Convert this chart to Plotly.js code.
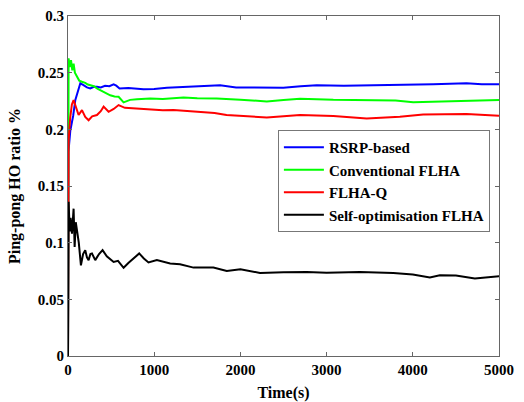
<!DOCTYPE html>
<html>
<head>
<meta charset="utf-8">
<script src="https://cdn.plot.ly/plotly-3.0.1.min.js"></script>
<style>html,body{margin:0;padding:0;background:#fff;}#chart{width:524px;height:402px;}</style>
</head>
<body>
<div id="chart"></div>
<script>
var seriesNames = ["RSRP-based", "Conventional FLHA", "FLHA-Q", "Self-optimisation FLHA"];

var rsrpT = [0, 5, 27, 60, 85, 120, 143, 180, 220, 258, 300, 336, 380, 430, 480, 529, 560, 598, 700, 876, 1000, 1147, 1400, 1600, 1765, 1950, 2150, 2498, 2700, 2885, 3200, 3465, 3800, 4237, 4623, 4800, 5000];
var rsrpV = [0, 0.180, 0.199, 0.212, 0.226, 0.236, 0.2406, 0.239, 0.237, 0.236, 0.2375, 0.2376, 0.237, 0.2385, 0.238, 0.2397, 0.2385, 0.236, 0.2365, 0.2353, 0.2355, 0.2367, 0.2375, 0.238, 0.2388, 0.237, 0.2367, 0.2367, 0.238, 0.239, 0.2385, 0.2388, 0.239, 0.2397, 0.2406, 0.2398, 0.2397];

var convT = [0, 3, 7, 20, 35, 50, 65, 80, 104, 130, 162, 200, 230, 258, 300, 340, 374, 420, 460, 490, 540, 587, 645, 720, 800, 954, 1100, 1340, 1500, 1725, 2000, 2306, 2500, 2692, 3078, 3465, 3800, 4005, 4430, 4700, 5000];
var convV = [0, 0.223, 0.2626, 0.255, 0.261, 0.252, 0.258, 0.250, 0.2464, 0.243, 0.242, 0.241, 0.2395, 0.239, 0.238, 0.236, 0.2347, 0.233, 0.231, 0.230, 0.229, 0.2287, 0.2238, 0.226, 0.2265, 0.2273, 0.2268, 0.228, 0.2275, 0.2273, 0.2262, 0.2246, 0.2258, 0.227, 0.226, 0.226, 0.2255, 0.2238, 0.2246, 0.2252, 0.2258];

var flhaqT = [0, 3, 7, 25, 45, 65, 90, 123, 162, 200, 239, 280, 336, 380, 413, 471, 530, 587, 660, 760, 954, 1100, 1224, 1533, 1700, 1839, 2100, 2306, 2500, 2692, 3078, 3300, 3465, 3850, 4120, 4623, 5000];
var flhaqV = [0, 0.150, 0.190, 0.210, 0.222, 0.2258, 0.220, 0.2126, 0.217, 0.211, 0.208, 0.2115, 0.2126, 0.216, 0.220, 0.2155, 0.218, 0.2214, 0.219, 0.2185, 0.217, 0.2168, 0.217, 0.2155, 0.2145, 0.2126, 0.2115, 0.2105, 0.2115, 0.2126, 0.2117, 0.2105, 0.2096, 0.211, 0.213, 0.2135, 0.212];

var selfT = [0, 3, 7, 20, 30, 46, 55, 65, 77, 90, 104, 125, 150, 175, 200, 220, 239, 260, 278, 300, 316, 360, 401, 450, 529, 580, 645, 700, 760, 826, 880, 934, 1031, 1185, 1300, 1456, 1687, 1842, 2000, 2228, 2500, 2769, 3000, 3387, 3774, 4000, 4198, 4314, 4500, 4720, 5010];
var selfV = [0, 0.100, 0.136, 0.110, 0.122, 0.108, 0.125, 0.130, 0.0963, 0.118, 0.111, 0.100, 0.080, 0.090, 0.0934, 0.087, 0.0846, 0.090, 0.0905, 0.086, 0.0846, 0.090, 0.0934, 0.088, 0.083, 0.084, 0.0778, 0.082, 0.086, 0.0905, 0.086, 0.0825, 0.0846, 0.0816, 0.081, 0.078, 0.078, 0.075, 0.0765, 0.0733, 0.074, 0.0742, 0.0735, 0.0742, 0.0733, 0.072, 0.0693, 0.0713, 0.071, 0.0684, 0.0705];

var xTicks = [0, 1000, 2000, 3000, 4000, 5000];
var yTicks = [0, 0.05, 0.1, 0.15, 0.2, 0.25, 0.3];
var yTickText = ["0", "0.05", "0.1", "0.15", "0.2", "0.25", "0.3"];

var colors = ["#0000ff", "#00ff00", "#ff0000", "#000000"];
var xs = [rsrpT, convT, flhaqT, selfT];
var ys = [rsrpV, convV, flhaqV, selfV];

var traces = seriesNames.map(function(n, i) {
  return {x: xs[i], y: ys[i], name: n, type: "scatter", mode: "lines",
          line: {color: colors[i], width: 2}};
});

var fontFam = "'Liberation Serif', 'Times New Roman', serif";
var layout = {
  width: 524, height: 402,
  margin: {l: 68, r: 25, t: 16, b: 46},
  paper_bgcolor: "#fff", plot_bgcolor: "#fff",
  font: {family: fontFam, color: "#000", size: 15, weight: "bold"},
  showlegend: true,
  legend: {x: 0.487, y: 0.665, xanchor: "left", yanchor: "top",
           bgcolor: "#fff", bordercolor: "#777", borderwidth: 1,
           font: {family: fontFam, size: 15, weight: "bold", color: "#000"},
           itemwidth: 40, tracegroupgap: 0},
  xaxis: {range: [0, 5000], tickvals: xTicks, ticks: "inside", ticklen: 4,
          tickcolor: "#666", showline: true, linecolor: "#666", linewidth: 1, mirror: "ticks",
          showgrid: false, zeroline: false,
          tickfont: {family: fontFam, size: 15, weight: "bold"},
          title: {text: "Time(s)", font: {family: fontFam, size: 16, weight: "bold"}, standoff: 10}},
  yaxis: {range: [0, 0.3], tickvals: yTicks, ticktext: yTickText, ticks: "inside", ticklen: 4,
          tickcolor: "#666", showline: true, linecolor: "#666", linewidth: 1, mirror: "ticks",
          showgrid: false, zeroline: false,
          tickfont: {family: fontFam, size: 15, weight: "bold"},
          title: {text: "Ping-pong HO ratio %", font: {family: fontFam, size: 16, weight: "bold"}, standoff: 13}}
};

Plotly.newPlot("chart", traces, layout, {staticPlot: true, displayModeBar: false});
</script>
</body>
</html>
